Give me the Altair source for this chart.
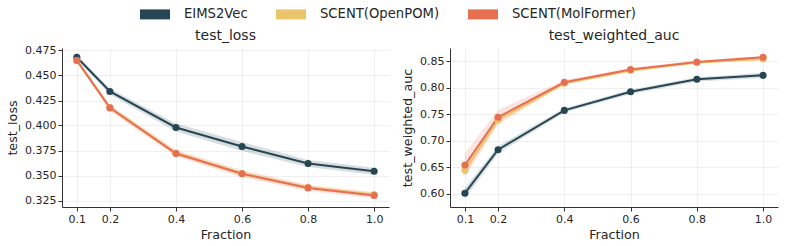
import altair as alt
import pandas as pd

# Training-set fraction on the x axis
fractions = [0.1, 0.2, 0.4, 0.6, 0.8, 1.0]
models = ["EIMS2Vec", "SCENT(OpenPOM)", "SCENT(MolFormer)"]
colors = ["#264653", "#e9c46a", "#e76f51"]

# test_loss: mean and spread per model
loss_eims = [0.4683, 0.4340, 0.3980, 0.3790, 0.3620, 0.3543]
loss_eims_sd = [0.0020, 0.0030, 0.0040, 0.0045, 0.0035, 0.0035]
loss_openpom = [0.4650, 0.4180, 0.3725, 0.3520, 0.3380, 0.3310]
loss_openpom_sd = [0.0020, 0.0030, 0.0030, 0.0030, 0.0025, 0.0025]
loss_molformer = [0.4650, 0.4176, 0.3720, 0.3517, 0.3376, 0.3300]
loss_molformer_sd = [0.0020, 0.0030, 0.0030, 0.0035, 0.0030, 0.0030]

# test_weighted_auc: mean and spread per model
auc_eims = [0.601, 0.683, 0.757, 0.792, 0.8155, 0.823]
auc_eims_sd = [0.010, 0.007, 0.004, 0.004, 0.004, 0.005]
auc_openpom = [0.644, 0.739, 0.808, 0.832, 0.847, 0.854]
auc_openpom_sd = [0.010, 0.006, 0.003, 0.003, 0.002, 0.002]
auc_molformer = [0.654, 0.744, 0.810, 0.834, 0.848, 0.857]
auc_molformer_sd = [0.022, 0.014, 0.004, 0.003, 0.003, 0.003]

FONT = "DejaVu Sans"
TEXT = "#262626"


def frame(series):
    rows = []
    for model, means, sds in series:
        for f, m, s in zip(fractions, means, sds):
            rows.append({"model": model, "fraction": f, "mean": m,
                         "lo": m - s, "hi": m + s})
    return pd.DataFrame(rows)


loss_df = frame([
    ("EIMS2Vec", loss_eims, loss_eims_sd),
    ("SCENT(OpenPOM)", loss_openpom, loss_openpom_sd),
    ("SCENT(MolFormer)", loss_molformer, loss_molformer_sd),
])
auc_df = frame([
    ("EIMS2Vec", auc_eims, auc_eims_sd),
    ("SCENT(OpenPOM)", auc_openpom, auc_openpom_sd),
    ("SCENT(MolFormer)", auc_molformer, auc_molformer_sd),
])

color_scale = alt.Scale(domain=models, range=colors)
legend = alt.Legend(
    title=None, orient="none", direction="horizontal",
    legendX=83, legendY=-44,
    symbolType="M-1.5,-0.5H1.5V0.5H-1.5Z", symbolSize=400,
    symbolOpacity=1, symbolStrokeWidth=0,
    labelFontSize=13.2, labelFont=FONT, labelColor=TEXT,
    labelOffset=19, columnPadding=28,
)


def panel(df, title, title_dy, ydomain, yticks, ytitle, width):
    x = alt.X("fraction:Q", title="Fraction",
              scale=alt.Scale(domain=[0.055, 1.045], nice=False, zero=False),
              axis=alt.Axis(values=fractions, format=".1f", grid=True))
    y_axis = alt.Axis(values=yticks, format=".3f" if ydomain[1] < 0.6 else ".2f",
                      grid=True, title=ytitle)
    yscale = alt.Scale(domain=ydomain, nice=False, zero=False)
    band = alt.Chart(df).mark_area(opacity=0.18).encode(
        x=x,
        y=alt.Y("lo:Q", scale=yscale, axis=y_axis),
        y2="hi:Q",
        color=alt.Color("model:N", scale=color_scale, legend=legend, sort=models),
        detail="model:N",
    )
    line = alt.Chart(df).mark_line(strokeWidth=2).encode(
        x=x,
        y=alt.Y("mean:Q", scale=yscale, axis=y_axis),
        color=alt.Color("model:N", scale=color_scale, legend=None, sort=models),
    )
    pts = alt.Chart(df).mark_circle(size=50, opacity=1).encode(
        x=x,
        y=alt.Y("mean:Q", scale=yscale, axis=y_axis),
        color=alt.Color("model:N", scale=color_scale, legend=None, sort=models),
    )
    return alt.layer(band, line, pts).properties(
        width=width, height=159,
        title=alt.TitleParams(title, fontSize=14, font=FONT, fontWeight="normal",
                              color=TEXT, offset=6, frame="group", dy=title_dy),
    )


left = panel(loss_df, "test_loss", 4, [0.3185, 0.4775],
             [0.325, 0.35, 0.375, 0.4, 0.425, 0.45, 0.475], "test_loss", 327)
right = panel(auc_df, "test_weighted_auc", 1, [0.575, 0.8745],
              [0.6, 0.65, 0.7, 0.75, 0.8, 0.85], "test_weighted_auc", 328)

chart = alt.hconcat(left, right, spacing=12).properties(
    padding={"left": 6, "top": 4, "right": 7, "bottom": 2}
).configure_view(stroke=None).configure_axis(
    labelFont=FONT, titleFont=FONT, labelFontSize=11, titleFontSize=12.7,
    labelColor=TEXT, titleColor=TEXT, titleFontWeight="normal",
    gridColor="#ebebeb", gridWidth=0.8,
    domainColor="#333333", tickColor="#333333", tickSize=4,
    labelPadding=2, titlePadding=4,
).configure_axisY(labelPadding=2, titlePadding=5)

chart.save("out.html", embed_options={"renderer": "svg", "actions": False})
